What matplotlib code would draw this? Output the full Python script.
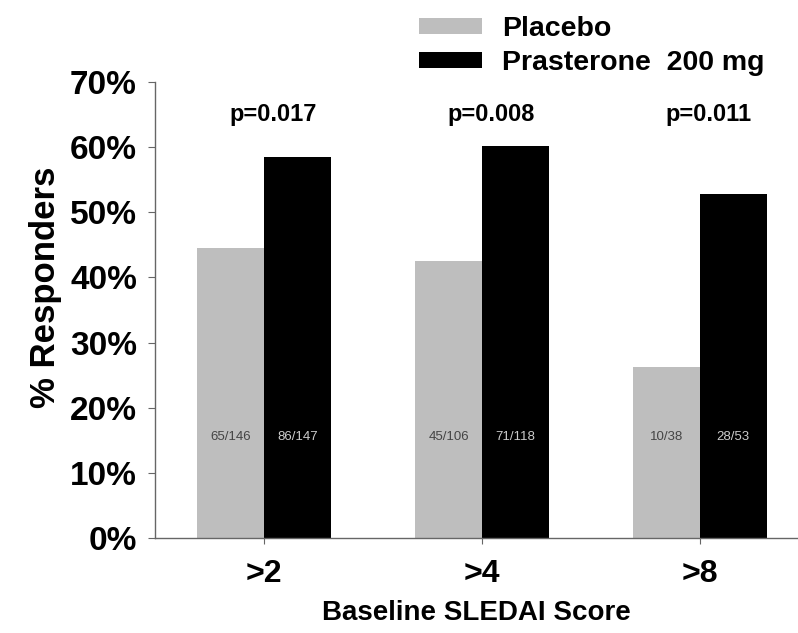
import numpy as np
import matplotlib
matplotlib.use('Agg')
import matplotlib.pyplot as plt
from matplotlib.patches import Patch

plt.rcParams['font.family'] = ['Liberation Sans', 'DejaVu Sans']

# data
groups = ['>2', '>4', '>8']
placebo = [44.5, 42.5, 26.3]
prasterone = [58.5, 60.2, 52.8]
placebo_n = ['65/146', '45/106', '10/38']
prasterone_n = ['86/147', '71/118', '28/53']
p_values = ['p=0.017', 'p=0.008', 'p=0.011']
yticks = [0, 10, 20, 30, 40, 50, 60, 70]

grey = '#bebebe'
axis_col = '#666666'

fig = plt.figure(figsize=(7.98, 6.33), dpi=100)
ax = fig.add_axes([0.1942, 0.1501, 0.8045, 0.7204])

x = np.arange(len(groups))
w = 0.306
ax.bar(x - w / 2, placebo, w, color=grey, edgecolor='none')
ax.bar(x + w / 2, prasterone, w, color='black', edgecolor='none')

for i in range(len(groups)):
    ax.text(x[i] - w / 2, 15.5, placebo_n[i], ha='center', va='center',
            fontsize=9.5, color='#444444')
    ax.text(x[i] + w / 2, 15.5, prasterone_n[i], ha='center', va='center',
            fontsize=9.5, color='#cccccc')
    ax.text(x[i] + 0.04, 65.0, p_values[i], ha='center', va='center',
            fontsize=17, fontweight='bold')

ax.set_xlim(-0.5, 2.445)
ax.set_ylim(0, 70)
ax.set_yticks(yticks)
ax.set_yticklabels(['%d%%' % v for v in yticks])
ax.set_xticks(x)
ax.set_xticklabels(groups)

for lab in ax.get_yticklabels():
    lab.set_fontweight('bold')
    lab.set_fontsize(24)
for lab in ax.get_xticklabels():
    lab.set_fontweight('bold')
    lab.set_fontsize(23)

ax.tick_params(axis='y', length=5, width=0.8, color=axis_col, pad=8)
ax.tick_params(axis='x', length=4, width=0.8, color=axis_col, pad=11)

ax.spines['top'].set_visible(False)
ax.spines['right'].set_visible(False)
for s in ['left', 'bottom']:
    ax.spines[s].set_color(axis_col)
    ax.spines[s].set_linewidth(1.0)

ax.set_xlabel('Baseline SLEDAI Score', fontsize=20, fontweight='bold', labelpad=8)
ax.set_ylabel('% Responders', fontsize=25, fontweight='bold')
ax.yaxis.set_label_coords(-0.145, 0.55)

handles = [Patch(facecolor=grey, edgecolor='none'),
           Patch(facecolor='black', edgecolor='none')]
fig.legend(handles, ['Placebo', 'Prasterone  200 mg'], loc='upper left',
           bbox_to_anchor=(0.525, 0.975), frameon=False, borderpad=0,
           borderaxespad=0, handlelength=2.2, handleheight=0.5,
           handletextpad=0.72, labelspacing=0.3,
           prop={'size': 20.5, 'weight': 'bold'})

fig.savefig('out.png', dpi=100)
